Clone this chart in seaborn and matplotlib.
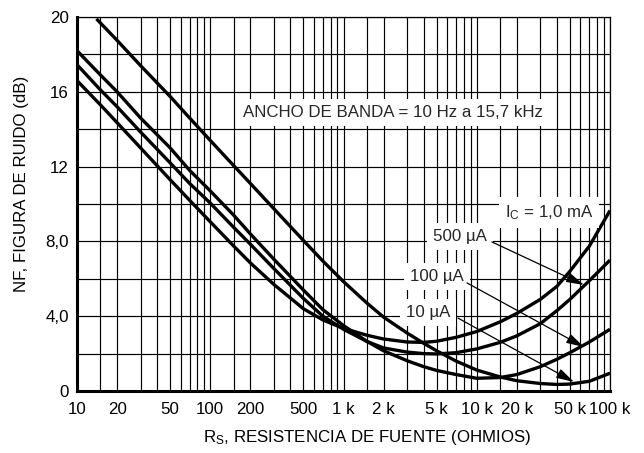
import matplotlib
matplotlib.use("Agg")
import matplotlib.pyplot as plt
import numpy as np
import pandas as pd
import seaborn as sns

# ---------------- data ----------------
rs = [10, 15, 20, 30, 50, 70, 100, 150, 200, 300, 500, 700, 1000, 1500, 2000,
      3000, 4000, 5000, 7000, 10000, 15000, 20000, 30000, 40000, 50000, 70000, 100000]

nf_1ma = [16.6, 15.3, 14.35, 13.0, 11.3, 10.2, 9.05, 7.75, 6.85, 5.7, 4.4, 3.8,
          3.35, 2.98, 2.78, 2.62, 2.6, 2.66, 2.87, 3.18, 3.7, 4.15, 4.9, 5.6, 6.4, 7.75, 9.65]
nf_500ua = [17.45, 16.1, 15.2, 13.85, 12.2, 11.1, 10.05, 8.75, 7.85, 6.55, 4.95, 4.0,
            3.3, 2.65, 2.3, 2.08, 2.0, 1.98, 2.05, 2.25, 2.6, 2.95, 3.6, 4.3, 4.9, 5.9, 7.0]
nf_100ua = [18.2, 16.9, 16.0, 14.6, 13.0, 11.8, 10.7, 9.4, 8.4, 7.05, 5.4, 4.35,
            3.5, 2.65, 2.15, 1.62, 1.3, 1.1, 0.88, 0.68, 0.72, 0.88, 1.3, 1.7, 2.05, 2.62, 3.3]
rs_10ua = [14, 20, 30, 50, 70, 100, 150, 200, 300, 500, 700, 1000, 1500, 2000,
           3000, 4000, 5000, 7000, 10000, 15000, 20000, 30000, 40000, 50000, 70000, 100000]
nf_10ua = [19.9, 18.75, 17.4, 15.75, 14.6, 13.4, 12.05, 11.1, 9.75, 8.05, 6.95, 5.85,
           4.7, 3.95, 3.1, 2.55, 2.15, 1.6, 1.12, 0.75, 0.55, 0.4, 0.35, 0.37, 0.52, 0.95]

curve_names = ["1,0 mA", "500 µA", "100 µA", "10 µA"]

x_major = [10, 20, 50, 100, 200, 500, 1000, 2000, 5000, 10000, 20000, 50000, 100000]
x_labels = ["10", "20", "50", "100", "200", "500", "1 k", "2 k", "5 k",
            "10 k", "20 k", "50 k", "100 k"]
y_major = [0, 4, 8, 12, 16, 20]
y_labels = ["0", "4,0", "8,0", "12", "16", "20"]

# ---------------- build table ----------------
frames = []
for name, xs, ys in zip(curve_names,
                        [rs, rs, rs, rs_10ua],
                        [nf_1ma, nf_500ua, nf_100ua, nf_10ua]):
    frames.append(pd.DataFrame({"Rs": xs, "NF": ys, "curve": name}))
df = pd.concat(frames, ignore_index=True)

# ---------------- style ----------------
sns.set_theme(style="white")
FONT = ["Liberation Sans", "DejaVu Sans"]
plt.rcParams["font.family"] = FONT
plt.rcParams["mathtext.default"] = "regular"
FS = 12.2

fig = plt.figure(figsize=(6.44, 4.53), dpi=100)
ax = fig.add_axes([77 / 644, 1 - 391 / 453, 533 / 644, 374 / 453])

sns.lineplot(data=df, x="Rs", y="NF", units="curve", estimator=None,
             color="black", lw=2.4, sort=True, ax=ax, legend=False, zorder=3)
for ln in ax.lines:
    ln.set_solid_joinstyle("round")
    ln.set_solid_capstyle("butt")

ax.set_xscale("log")
ax.set_xlim(10, 100000)
ax.set_ylim(0, 20)

minor_x = [m * d for d in [10, 100, 1000, 10000] for m in [1.5, 3, 4, 6, 7, 8, 9]]
ax.set_xticks(x_major)
ax.set_xticklabels(x_labels)
ax.set_xticks(minor_x, minor=True)
ax.set_xticklabels([], minor=True)
ax.set_yticks(y_major)
ax.set_yticklabels(y_labels)
ax.set_yticks([2, 6, 10, 14, 18], minor=True)

ax.grid(True, which="both", color="black", lw=0.85)
ax.tick_params(which="both", length=0, labelsize=FS, colors="black")
ax.tick_params(axis="x", pad=8)
ax.tick_params(axis="y", pad=6)

for side in ["top", "right"]:
    ax.spines[side].set_linewidth(0.9)
    ax.spines[side].set_color("black")
for side in ["left", "bottom"]:
    ax.spines[side].set_linewidth(2.2)
    ax.spines[side].set_color("black")

ax.set_xlabel(r"R$_{S}$, RESISTENCIA DE FUENTE (OHMIOS)", fontsize=FS, color="black")
ax.set_ylabel("NF, FIGURA DE RUIDO (dB)", fontsize=FS, color="black")
ax.xaxis.label.set_va("center")
ax.yaxis.label.set_va("center")
ax.xaxis.set_label_coords(0.544, -0.123)
ax.yaxis.set_label_coords(-0.105, 0.553)

box = dict(boxstyle="square,pad=0.35", fc="white", ec="none")
ax.text(176, 14.9, "ANCHO DE BANDA = 10 Hz a 15,7 kHz", fontsize=FS,
        ha="left", va="center", bbox=box, zorder=4)
ax.text(16300, 9.55, r"I$_{C}$ = 1,0 mA", fontsize=FS, ha="left", va="center",
        bbox=box, zorder=4)
ax.text(4700, 8.24, "500 µA", fontsize=FS, ha="left", va="center", bbox=box, zorder=4)
ax.text(3150, 6.1, "100 µA", fontsize=FS, ha="left", va="center", bbox=box, zorder=4)
ax.text(2950, 4.22, "10 µA", fontsize=FS, ha="left", va="center", bbox=box, zorder=4)

arrow = dict(arrowstyle="-|>,head_length=0.9,head_width=0.25", color="black",
             lw=0.9, shrinkA=0, shrinkB=0)
ax.annotate("", xy=(63800, 5.67), xytext=(13000, 7.97), arrowprops=arrow, zorder=5)
ax.annotate("", xy=(63800, 2.35), xytext=(8450, 5.78), arrowprops=arrow, zorder=5)
ax.annotate("", xy=(53700, 0.48), xytext=(7230, 3.9), arrowprops=arrow, zorder=5)

fig.savefig("out.png", dpi=100, facecolor="white")
